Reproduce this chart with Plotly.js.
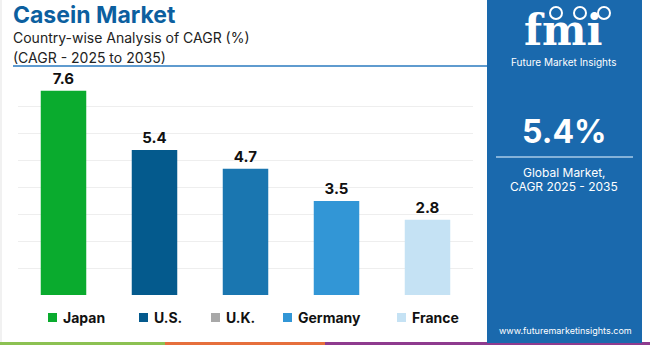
<!DOCTYPE html>
<html>
<head>
<meta charset="utf-8">
<script src="https://cdn.plot.ly/plotly-3.0.1.min.js"></script>
<style>
  html, body { margin: 0; padding: 0; background: #ffffff; }
  #chart { width: 650px; height: 345px; }
</style>
</head>
<body>
<div id="chart"></div>
<script>
// ---- data ----
const countries = ["Japan", "U.S.", "U.K.", "Germany", "France"];
const cagrValues = [7.6, 5.4, 4.7, 3.5, 2.8];
const valueLabels = ["7.6", "5.4", "4.7", "3.5", "2.8"];
const barColors = ["#0aab2e", "#045a8d", "#1a76b0", "#3296d6", "#c5e2f4"];
const legendColors = ["#0aab2e", "#045a8d", "#a8a8a8", "#3296d6", "#c5e2f4"];
const globalCagr = "5.4%";

// ---- geometry helpers (pixel -> paper) ----
const W = 650, H = 345;
const L = 18, R = 473, T = 80, B = 295;
const px = x => (x - L) / (R - L);
const py = y => (B - y) / (B - T);

const FONT = "Inter, 'Open Sans', sans-serif";

const trace = {
  type: "bar",
  x: countries,
  y: cagrValues,
  text: valueLabels,
  textposition: "outside",
  texttemplate: "<b>%{text}</b>",
  textfont: { family: FONT, size: 15, color: "#111111" },
  cliponaxis: false,
  marker: { color: barColors, line: { width: 0 } },
  width: 0.5,
  hoverinfo: "x+y",
  showlegend: false
};

const shapes = [];
const annotations = [];

// left border
shapes.push({ type: "line", xref: "paper", yref: "paper", x0: px(1), x1: px(1), y0: py(0), y1: py(345), line: { color: "#e3e3e3", width: 1 } });

// title rule
shapes.push({ type: "line", xref: "paper", yref: "paper", x0: px(13), x1: px(487), y0: py(66), y1: py(66), line: { color: "#2a7abf", width: 1.5 } });

// bottom stripes
shapes.push({ type: "rect", xref: "paper", yref: "paper", x0: px(0), x1: px(165), y0: py(342), y1: py(345), fillcolor: "#8cc152", line: { width: 0 } });
shapes.push({ type: "rect", xref: "paper", yref: "paper", x0: px(165), x1: px(325), y0: py(342), y1: py(345), fillcolor: "#e66f3c", line: { width: 0 } });
shapes.push({ type: "rect", xref: "paper", yref: "paper", x0: px(325), x1: px(650), y0: py(342), y1: py(345), fillcolor: "#8e3b8e", line: { width: 0 } });

// right panel
shapes.push({ type: "rect", xref: "paper", yref: "paper", x0: px(487), x1: px(642), y0: py(0), y1: py(343), fillcolor: "#1a69ad", line: { width: 0 } });
shapes.push({ type: "line", xref: "paper", yref: "paper", x0: px(496), x1: px(633), y0: py(157), y1: py(157), line: { color: "#a9cbe8", width: 1.5 } });

// logo circles
[556, 580, 604].forEach(cx => {
  shapes.push({ type: "circle", xref: "paper", yref: "paper", x0: px(cx - 6), x1: px(cx + 6), y0: py(7), y1: py(19), fillcolor: "rgba(0,0,0,0)", line: { color: "#ffffff", width: 2 } });
});

// titles
annotations.push({ xref: "paper", yref: "paper", x: px(11), y: py(15), xanchor: "left", yanchor: "middle", showarrow: false,
  text: "<b>Casein Market</b>", font: { family: FONT, size: 23, color: "#0c5f9f" } });
annotations.push({ xref: "paper", yref: "paper", x: px(11), y: py(38), xanchor: "left", yanchor: "middle", showarrow: false,
  text: "Country-wise Analysis of CAGR (%)", font: { family: FONT, size: 14, color: "#222222" } });
annotations.push({ xref: "paper", yref: "paper", x: px(11), y: py(57), xanchor: "left", yanchor: "middle", showarrow: false,
  text: "(CAGR - 2025 to 2035)", font: { family: FONT, size: 14, color: "#222222" } });

// legend
const legendX = [48, 139, 211, 283, 397];
countries.forEach((c, i) => {
  const x0 = legendX[i];
  shapes.push({ type: "rect", xref: "paper", yref: "paper", x0: px(x0), x1: px(x0 + 9), y0: py(313), y1: py(322), fillcolor: legendColors[i], line: { width: 0 } });
  annotations.push({ xref: "paper", yref: "paper", x: px(x0 + 13), y: py(317.5), xanchor: "left", yanchor: "middle", showarrow: false,
    text: "<b>" + c + "</b>", font: { family: FONT, size: 14, color: "#111111" } });
});

// panel text
annotations.push({ xref: "paper", yref: "paper", x: px(563), y: py(31), xanchor: "center", yanchor: "middle", showarrow: false,
  text: "<b>fmi</b>", font: { family: "'DejaVu Serif', serif", size: 42, color: "#ffffff" } });
annotations.push({ xref: "paper", yref: "paper", x: px(563), y: py(62), xanchor: "center", yanchor: "middle", showarrow: false,
  text: "Future Market Insights", font: { family: FONT, size: 10, color: "#ffffff" } });
annotations.push({ xref: "paper", yref: "paper", x: px(564), y: py(131), xanchor: "center", yanchor: "middle", showarrow: false,
  text: "<b>" + globalCagr + "</b>", font: { family: FONT, size: 32, color: "#ffffff" } });
annotations.push({ xref: "paper", yref: "paper", x: px(564), y: py(172), xanchor: "center", yanchor: "middle", showarrow: false,
  text: "Global Market,", font: { family: FONT, size: 12, color: "#ffffff" } });
annotations.push({ xref: "paper", yref: "paper", x: px(564), y: py(186), xanchor: "center", yanchor: "middle", showarrow: false,
  text: "CAGR 2025 - 2035", font: { family: FONT, size: 12, color: "#ffffff" } });
annotations.push({ xref: "paper", yref: "paper", x: px(565), y: py(330), xanchor: "center", yanchor: "middle", showarrow: false,
  text: "www.futuremarketinsights.com", font: { family: FONT, size: 9, color: "#ffffff" } });

const layout = {
  width: W, height: H,
  margin: { l: L, r: W - R, t: T, b: H - B, pad: 0 },
  paper_bgcolor: "#ffffff",
  plot_bgcolor: "#ffffff",
  showlegend: false,
  bargap: 0.5,
  xaxis: { showticklabels: false, showgrid: false, zeroline: false, showline: false, ticks: "", fixedrange: true },
  yaxis: { range: [0, 8], dtick: 1, showticklabels: false, showgrid: true, gridcolor: "#eeeeee", gridwidth: 1, zeroline: false, showline: false, ticks: "", fixedrange: true },
  shapes: shapes,
  annotations: annotations,
  font: { family: FONT }
};

Plotly.newPlot("chart", [trace], layout, { displayModeBar: false, staticPlot: true });
</script>
</body>
</html>
